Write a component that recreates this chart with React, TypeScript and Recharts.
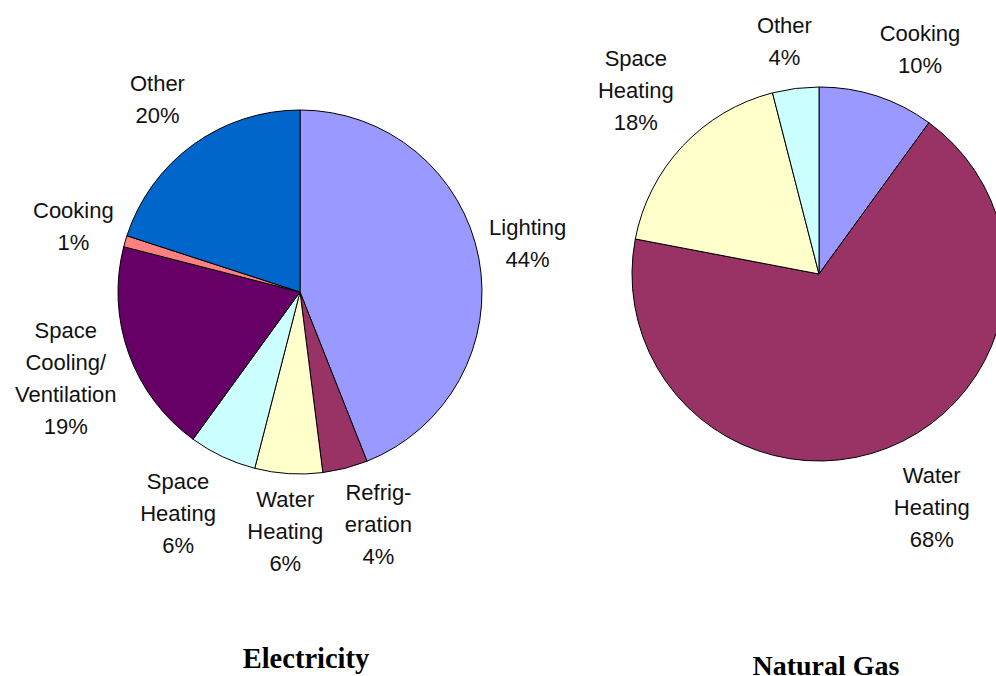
import React from "react";
import { PieChart, Pie, Cell } from "recharts";

// ---- Data ----
const elecCategories = [
  "Lighting",
  "Refrig-\neration",
  "Water\nHeating",
  "Space\nHeating",
  "Space\nCooling/\nVentilation",
  "Cooking",
  "Other",
];
const elecValues = [44, 4, 6, 6, 19, 1, 20];
const elecColors = ["#9999FF", "#993366", "#FFFFCC", "#CCFFFF", "#660066", "#FF8080", "#0066CC"];

const gasCategories = ["Cooking", "Water\nHeating", "Space\nHeating", "Other"];
const gasValues = [10, 68, 18, 4];
const gasColors = ["#9999FF", "#993366", "#FFFFCC", "#CCFFFF"];

const titles = ["Electricity", "Natural Gas"];

const elecData = elecCategories.map((name, i) => ({ name, value: elecValues[i] }));
const gasData = gasCategories.map((name, i) => ({ name, value: gasValues[i] }));

// label spreading nudges (px), as the original spreads crowded labels apart
const elecLabelNudge = [[-1, -5], [19, 1], [0, 5], [-18, 0], [8, -1], [0, 0], [-9, -9]];
const gasLabelNudge = [[28, 0], [20, -1], [3, -9], [-6, -6]];

// ---- Styling ----
const FONT = "'Liberation Sans', Arial, sans-serif";
const FONT_SIZE = 22;
const LINE_H = 32;
const RAD = Math.PI / 180;

let ctx: CanvasRenderingContext2D | null = null;
function measure(s: string): number {
  if (!ctx) {
    const c = document.createElement("canvas");
    ctx = c.getContext("2d");
  }
  if (!ctx) return s.length * FONT_SIZE * 0.5;
  ctx.font = `${FONT_SIZE}px 'Liberation Sans', Arial, sans-serif`;
  return ctx.measureText(s).width;
}

function makeLabel(gap: number, nudges: number[][]) {
  return (props: any) => {
    const { cx, cy, midAngle, outerRadius, payload, value, index } = props;
    const name: string = (payload && payload.name) || props.name;
    const lines = [...name.split("\n"), `${value}%`];
    const w = Math.max(...lines.map(measure)) / 2;
    const h = (lines.length * LINE_H) / 2 - 6;
    const sx = Math.cos(-midAngle * RAD);
    const sy = Math.sin(-midAngle * RAD);
    const d = outerRadius + gap + Math.abs(sx) * w + Math.abs(sy) * h;
    const n = nudges[index] || [0, 0];
    const x = cx + d * sx + n[0];
    const y = cy + d * sy + n[1];
    const y0 = y - ((lines.length - 1) * LINE_H) / 2 + FONT_SIZE * 0.36;
    return (
      <text
        key={`lbl-${index}`}
        x={x}
        y={y0}
        textAnchor="middle"
        fontFamily={FONT}
        fontSize={FONT_SIZE}
        fill="#111"
      >
        {lines.map((ln, i) => (
          <tspan key={i} x={x} y={y0 + i * LINE_H}>
            {ln}
          </tspan>
        ))}
      </text>
    );
  };
}

export default function App() {
  return (
    <div style={{ position: "absolute", left: 0, top: 0, width: 996, height: 676, background: "#fff", overflow: "hidden" }}>
      <PieChart width={996} height={676} margin={{ top: 0, right: 0, bottom: 0, left: 0 }}>
        <Pie
          data={elecData}
          dataKey="value"
          nameKey="name"
          cx={300}
          cy={292}
          outerRadius={182}
          startAngle={90}
          endAngle={-270}
          stroke="#000"
          strokeWidth={1}
          labelLine={false}
          label={makeLabel(8, elecLabelNudge)}
          isAnimationActive={false}
        >
          {elecData.map((_, i) => (
            <Cell key={i} fill={elecColors[i]} stroke="#000" strokeWidth={1} />
          ))}
        </Pie>
        <Pie
          data={gasData}
          dataKey="value"
          nameKey="name"
          cx={819}
          cy={274}
          outerRadius={187}
          startAngle={90}
          endAngle={-270}
          stroke="#000"
          strokeWidth={1}
          labelLine={false}
          label={makeLabel(12, gasLabelNudge)}
          isAnimationActive={false}
        >
          {gasData.map((_, i) => (
            <Cell key={i} fill={gasColors[i]} stroke="#000" strokeWidth={1} />
          ))}
        </Pie>
      </PieChart>
      <svg width={996} height={676} style={{ position: "absolute", left: 0, top: 0, pointerEvents: "none" }}>
        <text x={306} y={668} textAnchor="middle" fontFamily="'Liberation Serif', 'Times New Roman', serif" fontWeight="bold" fontSize={28.5} fill="#000">
          {titles[0]}
        </text>
        <text x={826} y={675} textAnchor="middle" fontFamily="'Liberation Serif', 'Times New Roman', serif" fontWeight="bold" fontSize={28} fill="#000">
          {titles[1]}
        </text>
      </svg>
    </div>
  );
}
